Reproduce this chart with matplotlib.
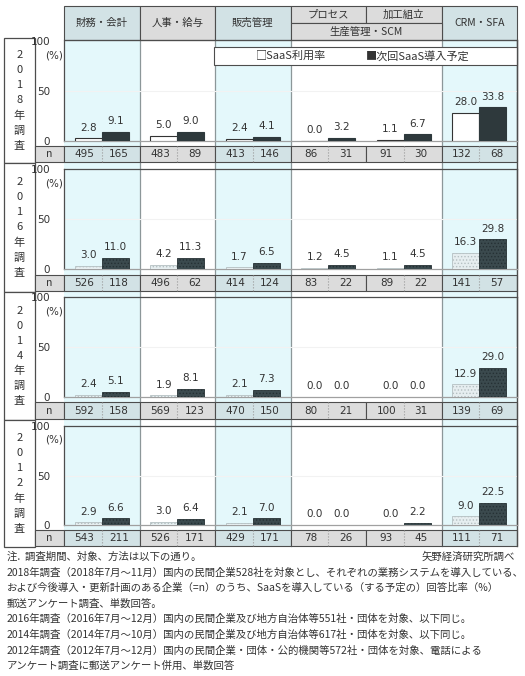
import numpy as np
import matplotlib.pyplot as plt
from matplotlib.patches import Rectangle

plt.rcParams['font.family'] = ['Noto Sans CJK JP', 'DejaVu Sans']
plt.rcParams['hatch.linewidth'] = 0.6

# ---- data ----
categories = ['財務・会計', '人事・給与', '販売管理', 'プロセス', '加工組立', 'CRM・SFA']
years = ['2018', '2016', '2014', '2012']

saas_rate = [
    [2.8, 5.0, 2.4, 0.0, 1.1, 28.0],
    [3.0, 4.2, 1.7, 1.2, 1.1, 16.3],
    [2.4, 1.9, 2.1, 0.0, 0.0, 12.9],
    [2.9, 3.0, 2.1, 0.0, 0.0, 9.0],
]
next_plan = [
    [9.1, 9.0, 4.1, 3.2, 6.7, 33.8],
    [11.0, 11.3, 6.5, 4.5, 4.5, 29.8],
    [5.1, 8.1, 7.3, 0.0, 0.0, 29.0],
    [6.6, 6.4, 7.0, 0.0, 2.2, 22.5],
]
n_rate = [
    [495, 483, 413, 86, 91, 132],
    [526, 496, 414, 83, 89, 141],
    [592, 569, 470, 80, 100, 139],
    [543, 526, 429, 78, 93, 111],
]
n_plan = [
    [165, 89, 146, 31, 30, 68],
    [118, 62, 124, 22, 22, 57],
    [158, 123, 150, 21, 31, 69],
    [211, 171, 171, 26, 45, 71],
]
legend_labels = ['SaaS利用率', '次回SaaS導入予定']
notes = [
    '2018年調査（2018年7月～11月）国内の民間企業528社を対象とし、それぞれの業務システムを導入している、',
    'および今後導入・更新計画のある企業（=n）のうち、SaaSを導入している（する予定の）回答比率（%）',
    '郵送アンケート調査、単数回答。',
    '2016年調査（2016年7月～12月）国内の民間企業及び地方自治体等551社・団体を対象、以下同じ。',
    '2014年調査（2014年7月～10月）国内の民間企業及び地方自治体等617社・団体を対象、以下同じ。',
    '2012年調査（2012年7月～12月）国内の民間企業・団体・公的機関等572社・団体を対象、電話による',
    'アンケート調査に郵送アンケート併用、単数回答',
]

# ---- layout (pixels) ----
W, H = 525, 676
X0, X1 = 64, 517
CW = (X1 - X0) / 6.0
blocks = [(38, 163), (163, 292), (292, 420), (420, 547)]
plot_tb = [(41, 141), (169, 269), (297, 397), (426, 525)]
nrow_tb = [(146, 162), (275, 291), (402, 419), (530, 546)]
cyan_cols = [0, 2, 5]
CYAN = '#e4f8fb'
HEAD_B = '#d2e2e5'
HEAD_G = '#dcdcdc'
EDGE = '#4d4d4d'
SEP = '#8c9799'
TXT = '#333333'


def colx(i):
    return X0 + i * CW


def rect(x0, y_top, x1, y_bot):
    return [x0 / W, 1 - y_bot / H, (x1 - x0) / W, (y_bot - y_top) / H]


fig = plt.figure(figsize=(5.25, 6.76), dpi=100)
bg = fig.add_axes([0, 0, 1, 1])
bg.set_xlim(0, W)
bg.set_ylim(H, 0)
bg.axis('off')

# column backgrounds
for c in cyan_cols:
    bg.add_patch(Rectangle((colx(c), 40), CW, 506, facecolor=CYAN, edgecolor='none', zorder=0))
for c in [1, 2, 3, 5]:
    bg.plot([colx(c), colx(c)], [40, 546], color=SEP, lw=0.9, zorder=1)
bg.plot([X1, X1], [40, 546], color=EDGE, lw=1.0, zorder=3)

# header
HT, HM, HB = 6, 23, 40
for i, cat in enumerate(categories):
    col = HEAD_B if i in cyan_cols else HEAD_G
    if i in (3, 4):
        bg.add_patch(Rectangle((colx(i), HT), CW, HM - HT, facecolor=col, edgecolor=EDGE, lw=0.8, zorder=2))
        bg.text(colx(i) + CW / 2, (HT + HM) / 2, cat, ha='center', va='center', fontsize=7.5, color=TXT, zorder=4)
    else:
        bg.add_patch(Rectangle((colx(i), HT), CW, HB - HT, facecolor=col, edgecolor=EDGE, lw=0.8, zorder=2))
        bg.text(colx(i) + CW / 2, (HT + HB) / 2, cat, ha='center', va='center', fontsize=7.5, color=TXT, zorder=4)
bg.add_patch(Rectangle((colx(3), HM), 2 * CW, HB - HM, facecolor=HEAD_G, edgecolor=EDGE, lw=0.8, zorder=2))
bg.text(colx(4), (HM + HB) / 2, '生産管理・SCM', ha='center', va='center', fontsize=7.5, color=TXT, zorder=4)

# legend (2018 panel)
bg.add_patch(Rectangle((214, 47), X1 - 214, 18, facecolor='white', edgecolor=EDGE, lw=0.8, zorder=5))
bg.text(256, 56, '□' + legend_labels[0], ha='left', va='center', fontsize=8, color=TXT, zorder=6)
bg.text(366, 56, '■' + legend_labels[1], ha='left', va='center', fontsize=8, color=TXT, zorder=6)

for k, year in enumerate(years):
    bt, bb = blocks[k]
    # row label box
    bg.add_patch(Rectangle((4, bt), 31, bb - bt, facecolor='white', edgecolor=EDGE, lw=0.9, zorder=2))
    label = '\n'.join(list(year + '年調査'))
    bg.text(19.5, (bt + bb) / 2, label, ha='center', va='center', fontsize=8,
            color=TXT, linespacing=1.62, zorder=4)

    # n row
    nt, nb = nrow_tb[k]
    bg.add_patch(Rectangle((35, nt), X0 - 35, nb - nt, facecolor=HEAD_G, edgecolor=EDGE, lw=0.8, zorder=2))
    bg.text((35 + X0) / 2, (nt + nb) / 2, 'n', ha='center', va='center', fontsize=7.5, color=TXT, zorder=4)
    for i in range(6):
        col = HEAD_B if i in cyan_cols else HEAD_G
        bg.add_patch(Rectangle((colx(i), nt), CW, nb - nt, facecolor=col, edgecolor=EDGE, lw=0.8, zorder=2))
        bg.plot([colx(i) + CW / 2] * 2, [nt, nb], color='#9a9a9a', lw=0.8, ls=':', zorder=3)
        bg.text(colx(i) + CW * 0.27, (nt + nb) / 2, str(n_rate[k][i]), ha='center', va='center',
                fontsize=7.5, family='DejaVu Sans', color=TXT, zorder=4)
        bg.text(colx(i) + CW * 0.73, (nt + nb) / 2, str(n_plan[k][i]), ha='center', va='center',
                fontsize=7.5, family='DejaVu Sans', color=TXT, zorder=4)

    # bar panel
    pt, pb = plot_tb[k]
    ax = fig.add_axes(rect(X0, pt, X1, pb))
    ax.set_facecolor('none')
    ax.set_xlim(0, 6)
    ax.set_ylim(0, 100)
    x = np.arange(6) + 0.5
    bw = 0.36
    if k == 0:
        b1 = ax.bar(x - bw / 2, saas_rate[k], bw, facecolor='white', edgecolor='#333333', lw=0.8, zorder=3)
        b2 = ax.bar(x + bw / 2, next_plan[k], bw, facecolor='#2e393c', edgecolor='#2e393c', lw=0.8, zorder=3)
    else:
        b1 = ax.bar(x - bw / 2, saas_rate[k], bw, facecolor='#e6eef0', edgecolor='#b5c0c2',
                    hatch='.....', lw=0.6, zorder=3)
        b2 = ax.bar(x + bw / 2, next_plan[k], bw, facecolor='#3b4a4e', edgecolor='#263134',
                    hatch='.....', lw=0.6, zorder=3)
    for bars in (b1, b2):
        ax.bar_label(bars, fmt='%.1f', padding=4, fontsize=7.5, family='DejaVu Sans', color=TXT)
    ax.axhline(50, color='#f2f2f2', lw=0.8, zorder=1)
    ax.set_xticks([])
    ax.set_yticks([0, 50, 100])
    ax.set_yticklabels(['0', '50', '100'], fontsize=7.5, family='DejaVu Sans', color=TXT)
    ax.tick_params(axis='y', length=0, pad=10)
    ax.text(-0.003, 0.86, '(%)', transform=ax.transAxes, ha='right', va='center',
            fontsize=7.5, family='DejaVu Sans', color=TXT)
    for s in ['left', 'right']:
        ax.spines[s].set_color(EDGE)
        ax.spines[s].set_linewidth(0.9)
    ax.spines['bottom'].set_color('#a0a0a0')
    ax.spines['bottom'].set_linewidth(0.9)
    if k == 0:
        ax.spines['top'].set_visible(False)
    else:
        ax.spines['top'].set_color(EDGE)
        ax.spines['top'].set_linewidth(0.9)

# header bottom line over the 2018 panel
bg.plot([X0, X1], [HB, HB], color=EDGE, lw=0.9, zorder=3)

# notes
bg.text(7, 557, '注.  調査期間、対象、方法は以下の通り。', ha='left', va='center', fontsize=7.5, color=TXT)
bg.text(515, 557, '矢野経済研究所調べ', ha='right', va='center', fontsize=7.5, color=TXT)
for j, line in enumerate(notes):
    bg.text(7, 572.5 + j * 15.6, line, ha='left', va='center', fontsize=7.5, color=TXT)

fig.savefig('out.png', dpi=100)
